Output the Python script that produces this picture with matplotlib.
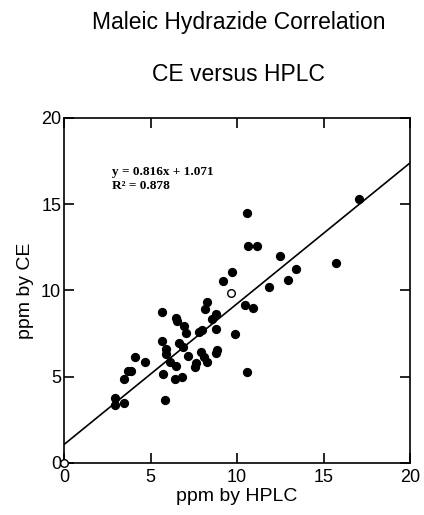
import numpy as np
import matplotlib.pyplot as plt

# ppm by HPLC (x) and ppm by CE (y)
hplc = [12.47, 15.75, 13.40, 9.70, 12.96, 9.18, 11.82, 8.25, 10.45, 8.16,
        10.95, 5.67, 8.81, 6.46, 8.58, 6.54, 6.96, 8.77, 7.95, 7.79,
        7.04, 9.86, 5.65, 6.63, 6.88, 5.92, 5.90, 8.87, 8.79, 7.92,
        7.17, 4.13, 4.67, 6.11, 8.08, 8.24, 7.62, 6.50, 7.60, 3.90,
        3.67, 3.44, 5.71, 6.81, 6.39, 10.58, 2.93, 2.93, 3.47, 5.86,
        17.03, 10.55, 10.61, 11.15]
ce = [12.00, 11.58, 11.23, 11.06, 10.61, 10.53, 10.19, 9.35, 9.16, 8.91,
      8.97, 8.75, 8.64, 8.40, 8.35, 8.23, 7.94, 7.75, 7.71, 7.61,
      7.55, 7.48, 7.05, 6.94, 6.71, 6.59, 6.32, 6.55, 6.36, 6.45,
      6.22, 6.13, 5.84, 5.87, 6.13, 5.87, 5.81, 5.64, 5.55, 5.35,
      5.35, 4.88, 5.16, 4.97, 4.85, 5.29, 3.75, 3.36, 3.46, 3.63,
      15.29, 14.48, 12.58, 12.58]
# open circles (one in the cloud, one at the origin)
open_x = [9.66, 0.0]
open_y = [9.84, 0.0]

slope = 0.816
intercept = 1.071
r2 = 0.878
xticks = [0, 5, 10, 15, 20]
yticks = [0, 5, 10, 15, 20]

plt.rcParams['font.family'] = ['Liberation Sans', 'DejaVu Sans']

fig = plt.figure(figsize=(4.24, 5.15), dpi=100)
ax = fig.add_axes([0.151, 0.101, 0.816, 0.670])

ax.scatter(hplc, ce, s=32, color='black', zorder=3)
ax.scatter(open_x, open_y, s=30, facecolors='white', edgecolors='black',
           linewidths=1.0, zorder=4, clip_on=False)

xl = np.array([0, 20])
ax.plot(xl, slope * xl + intercept, color='black', lw=1.2)

ax.set_xlim(0, 20)
ax.set_ylim(0, 20)
ax.set_xticks(xticks)
ax.set_yticks(yticks)
ax.tick_params(direction='in', length=7, width=1.2, labelsize=13,
               top=True, right=True)
ax.tick_params(axis='x', pad=4)
ax.tick_params(axis='y', pad=2)
for s in ax.spines.values():
    s.set_linewidth(1.2)

ax.text(0.14, 0.86, f'y = {slope}x + {intercept}\nR\u00b2 = {r2}',
        transform=ax.transAxes, family=['Liberation Serif', 'DejaVu Serif'],
        fontweight='bold', fontsize=9.5, va='top', ha='left', linespacing=1.15)

ax.set_xlabel('ppm by HPLC', fontsize=14, labelpad=2)
ax.set_ylabel('ppm by CE', fontsize=14, labelpad=5)

fig.text(0.562, 0.957, 'Maleic Hydrazide Correlation', fontsize=16.5,
         ha='center', va='center')
fig.text(0.562, 0.855, 'CE versus HPLC', fontsize=16.5,
         ha='center', va='center')

fig.savefig('out.png', dpi=100, facecolor='white')
